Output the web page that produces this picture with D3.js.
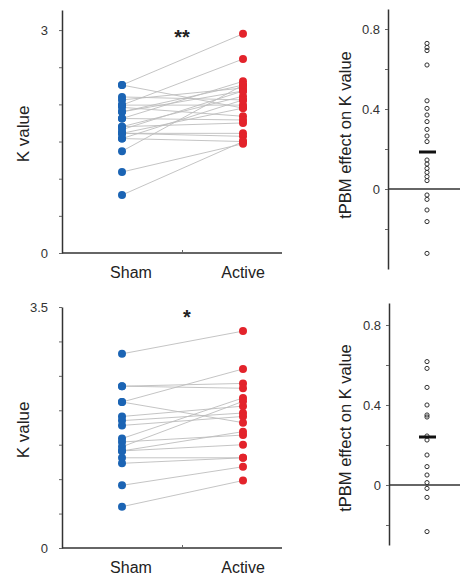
<!DOCTYPE html>
<html>
<head>
<meta charset="utf-8">
<script src="https://cdn.jsdelivr.net/npm/d3@7"></script>
<style>
  body { margin: 0; background: #fff; }
  svg { font-family: "Liberation Sans", Arial, sans-serif; }
</style>
</head>
<body>
<div id="chart"></div>
<script>
// groups on the x axis
const groups = ['Sham', 'Active'];

// top experiment: paired K values (sham -> active)
const shamTop = [2.26, 2.26, 2.10, 2.06, 1.99, 1.99, 1.96, 1.90, 1.90, 1.81, 1.81,
  1.70, 1.70, 1.66, 1.61, 1.61, 1.54, 1.54, 1.37, 1.09, 0.78, 1.61];
const activeTop = [2.95, 1.95, 2.06, 2.22, 2.61, 1.99, 1.84, 2.26, 2.18, 1.79, 2.31,
  1.75, 2.11, 2.18, 1.61, 1.57, 1.50, 2.06, 2.26, 1.47, 1.50, 1.95];
const effectTop = [0.728, 0.708, 0.692, 0.62, 0.441, 0.403, 0.37, 0.337, 0.298, 0.265,
  0.237, 0.145, 0.125, 0.103, 0.083, 0.062, 0.042, -0.03, -0.052, -0.105, -0.163, -0.322];
const meanTop = 0.185;

// bottom experiment
const shamBottom = [2.82, 2.35, 2.35, 2.12, 2.12, 1.91, 1.85, 1.78, 1.59, 1.54, 1.47,
  1.41, 1.41, 1.31, 1.23, 0.91, 0.60];
const activeBottom = [3.15, 2.39, 2.32, 2.60, 1.82, 2.06, 1.96, 1.91, 2.18, 1.64, 2.13,
  1.69, 1.50, 1.31, 1.31, 1.18, 0.98];
const effectBottom = [0.617, 0.583, 0.488, 0.40, 0.35, 0.34, 0.245, 0.225, 0.15, 0.092,
  0.05, 0.012, -0.017, -0.062, -0.233];
const meanBottom = 0.24;

// tick values
const kTicksTop = [0, 0.5, 1, 1.5, 2, 2.5, 3];
const kLabelsTop = [0, 3];
const kTicksBottom = [0, 0.5, 1, 1.5, 2, 2.5, 3, 3.5];
const kLabelsBottom = [0, 3.5];
const effTicks = [-0.2, 0, 0.2, 0.4, 0.6, 0.8];
const effLabels = [0, 0.4, 0.8];

const width = 460;
const height = 577;
const blue = '#1b64b4';
const red = '#e3232b';
const axisColor = '#333';

const svg = d3.select('#chart').append('svg')
  .attr('width', width)
  .attr('height', height);

function drawPanel(opt) {
  // paired dot plot
  const y = d3.scaleLinear().domain(opt.kDomain).range([opt.bottom, opt.top]);
  const x = d3.scaleLinear().domain([0, 1]).range([122, 243]);

  const lines = svg.append('g');
  opt.sham.forEach((s, i) => {
    lines.append('line')
      .attr('x1', x(0)).attr('y1', y(s))
      .attr('x2', x(1)).attr('y2', y(opt.active[i]))
      .attr('stroke', '#bdbdbd')
      .attr('stroke-width', 0.9);
  });

  svg.append('g').selectAll('circle')
    .data(opt.sham)
    .enter()
    .append('circle')
    .attr('cx', x(0))
    .attr('cy', (d) => y(d))
    .attr('r', 4)
    .attr('fill', blue);

  svg.append('g').selectAll('circle')
    .data(opt.active)
    .enter()
    .append('circle')
    .attr('cx', x(1))
    .attr('cy', (d) => y(d))
    .attr('r', 4)
    .attr('fill', red);

  // y axis
  const yAxis = d3.axisLeft(y)
    .tickValues(opt.kTicks)
    .tickSize(3)
    .tickSizeOuter(0)
    .tickPadding(11)
    .tickFormat((d) => (opt.kLabels.includes(d) ? String(d) : ''));
  const gy = svg.append('g')
    .attr('transform', 'translate(62,0)')
    .call(yAxis);
  gy.select('.domain').attr('stroke', axisColor).attr('stroke-width', 1.5);
  gy.selectAll('.tick line').attr('stroke', '#666');
  gy.selectAll('.tick text')
    .attr('font-size', 13)
    .attr('fill', '#333')
    .attr('font-family', '"Liberation Sans", Arial, sans-serif');

  // x axis line with centre tick
  svg.append('line')
    .attr('x1', 62).attr('x2', 282)
    .attr('y1', opt.bottom).attr('y2', opt.bottom)
    .attr('stroke', axisColor).attr('stroke-width', 1.5);
  svg.append('line')
    .attr('x1', x(0.5)).attr('x2', x(0.5))
    .attr('y1', opt.bottom).attr('y2', opt.bottom - 3)
    .attr('stroke', '#666');

  svg.append('text')
    .text(groups[0])
    .attr('x', x(0) + 9)
    .attr('y', opt.bottom + 25)
    .attr('text-anchor', 'middle')
    .attr('font-size', 16)
    .attr('fill', '#222');
  svg.append('text')
    .text(groups[1])
    .attr('x', x(1))
    .attr('y', opt.bottom + 25)
    .attr('text-anchor', 'middle')
    .attr('font-size', 16)
    .attr('fill', '#222');

  svg.append('text')
    .text('K value')
    .attr('transform', 'translate(29,' + opt.kLabelY + ') rotate(-90)')
    .attr('text-anchor', 'middle')
    .attr('font-size', 17)
    .attr('fill', '#222');

  svg.append('text')
    .text(opt.star)
    .attr('x', opt.starX)
    .attr('y', opt.starY)
    .attr('text-anchor', 'middle')
    .attr('font-size', 20)
    .attr('font-weight', 'bold')
    .attr('fill', '#222');

  // effect panel
  const ye = d3.scaleLinear().domain(opt.eDomain).range([opt.eBottom, opt.eTop]);
  const eAxis = d3.axisLeft(ye)
    .tickValues(effTicks)
    .tickSize(3)
    .tickSizeOuter(0)
    .tickPadding(5)
    .tickFormat((d) => (effLabels.includes(d) ? String(d) : ''));
  const ge = svg.append('g')
    .attr('transform', 'translate(' + opt.eX + ',0)')
    .call(eAxis);
  ge.select('.domain').attr('stroke', axisColor).attr('stroke-width', 1.5);
  ge.selectAll('.tick line').attr('stroke', '#666');
  ge.selectAll('.tick text')
    .attr('font-size', 13)
    .attr('fill', '#333')
    .attr('font-family', '"Liberation Sans", Arial, sans-serif');

  svg.append('line')
    .attr('x1', opt.eX).attr('x2', width)
    .attr('y1', ye(0)).attr('y2', ye(0))
    .attr('stroke', axisColor).attr('stroke-width', 1.3);

  svg.append('g').selectAll('circle')
    .data(opt.effect)
    .enter()
    .append('circle')
    .attr('cx', 427)
    .attr('cy', (d) => ye(d))
    .attr('r', 2.1)
    .attr('fill', 'none')
    .attr('stroke', '#333')
    .attr('stroke-width', 1);

  svg.append('line')
    .attr('x1', 419).attr('x2', 436)
    .attr('y1', ye(opt.mean)).attr('y2', ye(opt.mean))
    .attr('stroke', '#111').attr('stroke-width', 3);

  svg.append('text')
    .text('tPBM effect on K value')
    .attr('transform', 'translate(351,' + opt.eLabelY + ') rotate(-90)')
    .attr('text-anchor', 'middle')
    .attr('font-size', 16.5)
    .attr('fill', '#222');
}

drawPanel({
  sham: shamTop, active: activeTop, effect: effectTop, mean: meanTop,
  kDomain: [0, 3.27], top: 10, bottom: 253,
  kTicks: kTicksTop, kLabels: kLabelsTop, kLabelY: 134,
  star: '**', starX: 182, starY: 44,
  eDomain: [-0.4, 0.9], eTop: 9, eBottom: 269, eX: 388, eLabelY: 135,
});

drawPanel({
  sham: shamBottom, active: activeBottom, effect: effectBottom, mean: meanBottom,
  kDomain: [0, 3.5], top: 307, bottom: 548,
  kTicks: kTicksBottom, kLabels: kLabelsBottom, kLabelY: 430,
  star: '*', starX: 187, starY: 324,
  eDomain: [-0.3, 0.91], eTop: 303, eBottom: 545, eX: 389, eLabelY: 428,
});
</script>
</body>
</html>
